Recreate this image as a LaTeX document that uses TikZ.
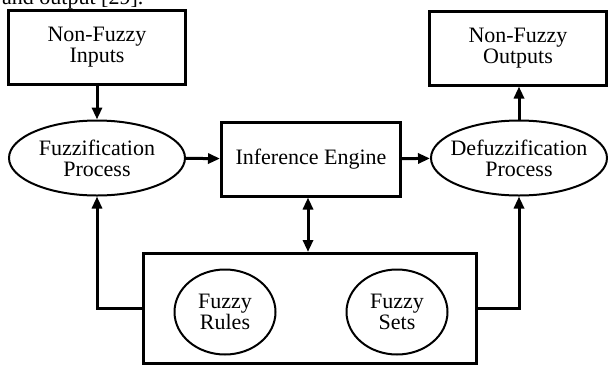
\documentclass[tikz,border=0pt]{standalone}
\usepackage{fontspec}
\setmainfont{Liberation Serif}
\usetikzlibrary{shapes.geometric,arrows.meta}

\tikzset{
	blocco/.style={draw, line width=3pt, minimum width=177pt, minimum height=74pt, align=center, inner sep=0pt, font=\fontsize{22}{21}\selectfont},
	processo/.style={draw, ellipse, line width=2pt, minimum width=176pt, minimum height=75pt, align=center, inner xsep=-12pt, inner ysep=0pt, font=\fontsize{22}{21}\selectfont},
	insieme/.style={draw, ellipse, line width=2pt, minimum width=101pt, minimum height=85pt, align=center, inner sep=0pt, font=\fontsize{22}{21}\selectfont},
	freccia/.style={line width=3pt, -{Triangle[length=12pt,width=10pt]}},
	doppia/.style={line width=3pt, {Triangle[length=12pt,width=10pt]}-{Triangle[length=12pt,width=10pt]}},
}

\begin{document}
\begin{tikzpicture}[x=1pt, y=-1pt]
		\useasboundingbox (0, 0) rectangle (608, 365);
		\clip (0, 0) rectangle (608, 365);

		% riga tagliata sopra
		\node[anchor=base west, inner sep=0pt, font=\fontsize{22}{21}\selectfont] (riga) at (2, 4) {and output [29].};

		% blocchi
		\node[blocco] (ingressi) at (97, 47) {Non-Fuzzy\\Inputs};
		\node[processo] (fuzz) at (97, 158) {Fuzzification\\Process};
		\node[blocco, minimum width=179pt] (motore) at (311, 159) {Inference Engine};
		\node[processo] (defuzz) at (519, 158) {Defuzzification\\Process};
		\node[blocco] (uscite) at (518, 48) {Non-Fuzzy\\Outputs};

		\node[blocco, minimum width=333pt, minimum height=110pt] (base) at (309.5, 308.5) {};
		\node[insieme] (regole) at (225, 312) {Fuzzy\\Rules};
		\node[insieme] (insiemi) at (397, 312) {Fuzzy\\Sets};

		% frecce
		\draw[freccia] (ingressi) -- (fuzz);
		\draw[freccia] (fuzz) -- (motore);
		\draw[freccia] (motore) -- (defuzz);
		\draw[freccia] (defuzz.north) -- (defuzz.north |- uscite.south);
		\draw[doppia] ([xshift=-3pt]motore.south) -- ([xshift=-3pt]motore.south |- base.north);
		\draw[freccia] (base.west) -| (fuzz.south);
		\draw[freccia] (base.east) -| (defuzz.south);
	\end{tikzpicture}
\end{document}
